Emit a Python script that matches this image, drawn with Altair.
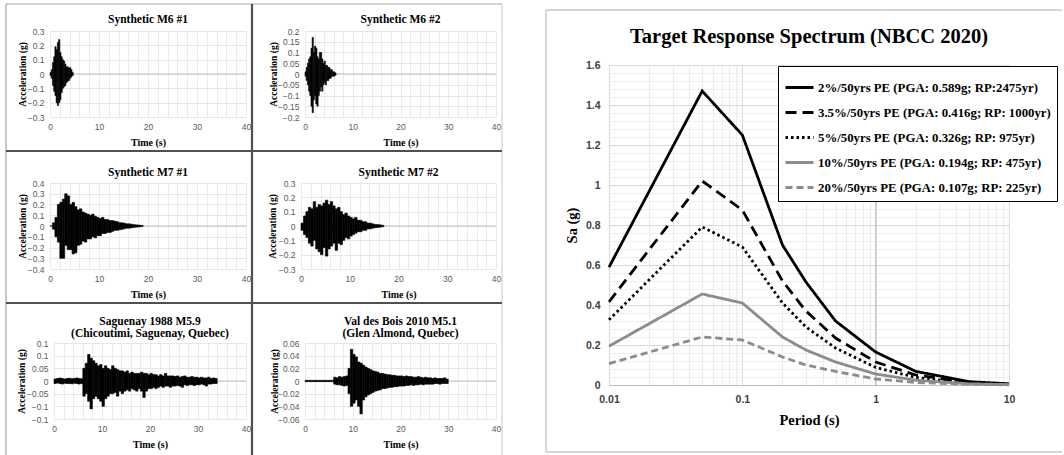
import altair as alt
import pandas as pd

SERIF = "Liberation Serif"
SANS = "Liberation Sans"

# ---------------- acceleration time histories ----------------
# Positive and negative peak acceleration (g) in successive time steps of dt seconds.
m6_1_dt = 0.25
m6_1_pos = [0.01, 0.03, 0.08, 0.12, 0.19, 0.17, 0.22, 0.24, 0.15, 0.12, 0.10, 0.09,
            0.07, 0.05, 0.05, 0.04, 0.045, 0.03, 0.01]
m6_1_neg = [-0.01, -0.03, -0.08, -0.12, -0.15, -0.20, -0.22, -0.20, -0.18, -0.13, -0.10,
            -0.09, -0.08, -0.06, -0.05, -0.045, -0.03, -0.02, -0.01]

m6_2_dt = 0.25
m6_2_pos = [0.01, 0.03, 0.05, 0.07, 0.08, 0.12, 0.17, 0.10, 0.13, 0.12, 0.08, 0.07, 0.10,
            0.10, 0.07, 0.05, 0.06, 0.04, 0.04, 0.03, 0.03, 0.02, 0.02, 0.01, 0.01, 0.005]
m6_2_neg = [-0.01, -0.03, -0.05, -0.08, -0.10, -0.15, -0.18, -0.12, -0.10, -0.14, -0.15,
            -0.10, -0.08, -0.06, -0.08, -0.05, -0.04, -0.05, -0.03, -0.03, -0.02, -0.02,
            -0.01, -0.01, -0.01, -0.005]

m7_1_dt = 0.5
m7_1_pos = [0.00, 0.03, 0.08, 0.20, 0.22, 0.25, 0.30, 0.28, 0.20, 0.22, 0.18, 0.15, 0.16,
            0.13, 0.12, 0.11, 0.10, 0.11, 0.09, 0.08, 0.07, 0.08, 0.06, 0.06, 0.05, 0.05,
            0.045, 0.04, 0.03, 0.03, 0.025, 0.02, 0.02, 0.015, 0.012, 0.01, 0.008, 0.005]
m7_1_neg = [0.00, -0.03, -0.10, -0.15, -0.30, -0.30, -0.18, -0.22, -0.22, -0.26, -0.25,
            -0.18, -0.17, -0.14, -0.15, -0.12, -0.12, -0.10, -0.11, -0.09, -0.09, -0.07,
            -0.07, -0.06, -0.06, -0.05, -0.04, -0.04, -0.035, -0.03, -0.025, -0.02, -0.02,
            -0.015, -0.012, -0.01, -0.008, -0.005]

m7_2_dt = 0.5
m7_2_pos = [0.02, 0.07, 0.10, 0.13, 0.12, 0.17, 0.13, 0.15, 0.14, 0.16, 0.18, 0.15, 0.17,
            0.14, 0.12, 0.13, 0.10, 0.08, 0.09, 0.07, 0.06, 0.05, 0.06, 0.04, 0.04, 0.03,
            0.03, 0.02, 0.02, 0.015, 0.01, 0.01, 0.008, 0.005]
m7_2_neg = [-0.03, -0.06, -0.08, -0.12, -0.14, -0.10, -0.16, -0.18, -0.20, -0.15, -0.21,
            -0.16, -0.14, -0.12, -0.17, -0.12, -0.13, -0.10, -0.08, -0.09, -0.07, -0.06,
            -0.05, -0.04, -0.04, -0.03, -0.03, -0.02, -0.02, -0.015, -0.012, -0.01, -0.008,
            -0.005]

sag_dt = 0.5
sag_pos = [0.008, 0.01, 0.012, 0.01, 0.008, 0.01, 0.011, 0.009, 0.01, 0.012, 0.01, 0.009,
           0.05, 0.07, 0.105, 0.09, 0.08, 0.07, 0.06, 0.065, 0.05, 0.06, 0.05, 0.045, 0.06,
           0.05, 0.045, 0.04, 0.04, 0.035, 0.04, 0.03, 0.035, 0.03, 0.03, 0.03, 0.035, 0.03,
           0.03, 0.025, 0.03, 0.025, 0.025, 0.02, 0.025, 0.02, 0.03, 0.02, 0.02, 0.02, 0.018,
           0.02, 0.015, 0.018, 0.02, 0.015, 0.015, 0.018, 0.015, 0.015, 0.012, 0.015, 0.012,
           0.012, 0.015, 0.01, 0.012, 0.01]
sag_neg = [-0.01, -0.008, -0.01, -0.012, -0.009, -0.01, -0.01, -0.011, -0.009, -0.01,
           -0.012, -0.01, -0.06, -0.05, -0.08, -0.11, -0.07, -0.06, -0.07, -0.08, -0.10,
           -0.07, -0.06, -0.05, -0.05, -0.045, -0.06, -0.04, -0.05, -0.04, -0.035, -0.04,
           -0.03, -0.035, -0.04, -0.03, -0.04, -0.065, -0.04, -0.03, -0.03, -0.025, -0.03,
           -0.025, -0.02, -0.025, -0.02, -0.02, -0.025, -0.02, -0.02, -0.018, -0.02, -0.025,
           -0.015, -0.018, -0.015, -0.015, -0.018, -0.015, -0.015, -0.012, -0.015, -0.02,
           -0.012, -0.012, -0.01, -0.01]

vdb_dt = 0.5
vdb_pos = [0.001, 0.001, 0.001, 0.001, 0.001, 0.001, 0.001, 0.001, 0.001, 0.001, 0.001,
           0.001, 0.006, 0.005, 0.007, 0.006, 0.007, 0.008, 0.02, 0.05, 0.042, 0.038, 0.03,
           0.028, 0.025, 0.022, 0.02, 0.018, 0.016, 0.015, 0.014, 0.012, 0.012, 0.011, 0.010,
           0.010, 0.009, 0.009, 0.008, 0.008, 0.008, 0.007, 0.008, 0.007, 0.007, 0.006, 0.006,
           0.007, 0.006, 0.005, 0.006, 0.005, 0.005, 0.004, 0.005, 0.004, 0.004, 0.004, 0.005,
           0.003]
vdb_neg = [-0.001, -0.001, -0.001, -0.001, -0.001, -0.001, -0.001, -0.001, -0.001, -0.001,
           -0.001, -0.001, -0.005, -0.006, -0.006, -0.007, -0.008, -0.007, -0.02, -0.04,
           -0.035, -0.03, -0.04, -0.052, -0.03, -0.025, -0.022, -0.02, -0.018, -0.016, -0.015,
           -0.014, -0.012, -0.012, -0.011, -0.010, -0.010, -0.009, -0.009, -0.008, -0.008,
           -0.008, -0.007, -0.007, -0.006, -0.007, -0.006, -0.006, -0.005, -0.006, -0.005,
           -0.005, -0.005, -0.005, -0.004, -0.004, -0.005, -0.004, -0.004, -0.004]

# ---------------- target spectra (NBCC 2020) ----------------
periods = [0.01, 0.05, 0.1, 0.2, 0.3, 0.5, 1.0, 2.0, 5.0, 10.0]
sa_2 = [0.589, 1.47, 1.25, 0.70, 0.515, 0.32, 0.165, 0.068, 0.017, 0.006]
sa_35 = [0.416, 1.02, 0.875, 0.52, 0.37, 0.235, 0.115, 0.05, 0.012, 0.004]
sa_5 = [0.326, 0.79, 0.69, 0.41, 0.29, 0.185, 0.088, 0.038, 0.009, 0.003]
sa_10 = [0.194, 0.455, 0.41, 0.24, 0.175, 0.115, 0.055, 0.024, 0.006, 0.002]
sa_20 = [0.107, 0.24, 0.225, 0.14, 0.10, 0.068, 0.03, 0.013, 0.003, 0.001]
series_names = [
    "2%/50yrs PE (PGA: 0.589g; RP:2475yr)",
    "3.5%/50yrs PE (PGA: 0.416g; RP: 1000yr)",
    "5%/50yrs PE (PGA: 0.326g; RP: 975yr)",
    "10%/50yrs PE (PGA: 0.194g; RP: 475yr)",
    "20%/50yrs PE (PGA: 0.107g; RP: 225yr)",
]
series_values = [sa_2, sa_35, sa_5, sa_10, sa_20]


def record_df(pos, neg, dt):
    rows = []
    for i, (hi, lo) in enumerate(zip(pos, neg)):
        rows.append({"t": i * dt, "t2": (i + 1) * dt, "hi": hi, "lo": lo})
    return pd.DataFrame(rows)


def record_panel(title, pos, neg, dt, y_values, width, height, title_x, title_offset):
    ymax = y_values[-1]
    x_enc = alt.X(
        "t:Q",
        scale=alt.Scale(domain=[0, 40], nice=False),
        axis=alt.Axis(
            values=list(range(0, 41, 2)),
            labelExpr="datum.value % 10 === 0 ? datum.label : ''",
            title="Time (s)", domain=False, ticks=False, grid=True, labelFlush=False,
            gridColor="#e6e6e6", gridWidth=0.8,
            labelFont=SANS, labelFontSize=8.5, labelColor="#595959", labelPadding=5,
            titleFont=SERIF, titleFontSize=10, titleFontWeight="bold", titleColor="black",
            titleY=25, titleBaseline="middle",
        ),
    )
    y_axis = alt.Axis(
        values=y_values, format="~g", title="Acceleration (g)", domain=False, ticks=False,
        grid=True, gridColor="#e0e0e0", gridWidth=0.8, labelFlush=False,
        labelFont=SANS, labelFontSize=8.5, labelColor="#595959", labelPadding=6,
        titleFont=SERIF, titleFontSize=9.5, titleFontWeight="bold", titleColor="black",
        titleAngle=270, titleX=title_x, titleY=height / 2, titleBaseline="middle",
        titleAlign="center",
    )
    y_scale = alt.Scale(domain=[-ymax, ymax], nice=False)
    # each time step is drawn as a filled band from its negative to its positive peak
    trace = alt.Chart(record_df(pos, neg, dt)).mark_rect(
        color="black", stroke="black", strokeWidth=0.6
    ).encode(
        x=x_enc, x2="t2:Q",
        y=alt.Y("lo:Q", scale=y_scale, axis=y_axis), y2="hi:Q",
    )
    zero = alt.Chart(pd.DataFrame({"lo": [0.0]})).mark_rule(
        color="#bfbfbf", strokeWidth=1
    ).encode(y=alt.Y("lo:Q", scale=y_scale, axis=y_axis))
    return alt.layer(zero, trace).properties(
        width=width, height=height,
        title=alt.TitleParams(
            title, font=SERIF, fontSize=11.5, fontWeight="bold", color="black",
            anchor="middle", frame="group", offset=title_offset, lineHeight=12,
        ),
    )


def line_seg(x1, x2, y1, y2, color, width):
    return alt.Chart(pd.DataFrame({"k": [0]})).mark_rule(
        color=color, strokeWidth=width, clip=False
    ).encode(x=alt.value(x1), x2=alt.value(x2), y=alt.value(y1), y2=alt.value(y2))


def spacer(decor=()):
    base = alt.Chart(pd.DataFrame({"k": [0]})).mark_point(opacity=0, size=0).encode(
        x=alt.value(0), y=alt.value(0)
    )
    return alt.layer(base, *decor).properties(width=1, height=1)


# table frame around the six records, drawn from the origin of the third row
table_frame = [
    line_seg(-44, -44, -339, 112, "#a6a6a6", 1.2),
    line_seg(-44, 452, -339, -339, "#a6a6a6", 1.2),
    line_seg(452, 452, -339, 112, "#c8c8c8", 1.0),
    line_seg(202, 202, -339, 112, "#505050", 2.2),
    line_seg(-44, 452, -192, -192, "#505050", 2.0),
    line_seg(-44, 452, -40, -40, "#505050", 2.0),
]
# border around the spectrum panel, drawn from a point just above its plot
spectrum_frame = [
    line_seg(-63, -63, -21, 421, "#d6d6d6", 2),
    line_seg(-63, 453, -21, -21, "#d6d6d6", 2),
    line_seg(-63, 453, 421, 421, "#d6d6d6", 2),
]

p1 = record_panel("Synthetic M6 #1", m6_1_pos, m6_1_neg, m6_1_dt,
                  [-0.3, -0.2, -0.1, 0, 0.1, 0.2, 0.3], 196, 86, -28, 2)
p2 = record_panel("Synthetic M6 #2", m6_2_pos, m6_2_neg, m6_2_dt,
                  [-0.2, -0.15, -0.1, -0.05, 0, 0.05, 0.1, 0.15, 0.2], 191, 86, -32, 2)
p3 = record_panel("Synthetic M7 #1", m7_1_pos, m7_1_neg, m7_1_dt,
                  [-0.4, -0.3, -0.2, -0.1, 0, 0.1, 0.2, 0.3, 0.4], 196, 86, -28, 1)
p4 = record_panel("Synthetic M7 #2", m7_2_pos, m7_2_neg, m7_2_dt,
                  [-0.3, -0.2, -0.1, 0, 0.1, 0.2, 0.3], 195, 86, -29, 1)
p5 = record_panel(["Saguenay 1988 M5.9", "(Chicoutimi, Saguenay, Quebec)"],
                  sag_pos, sag_neg, sag_dt,
                  [-0.15, -0.1, -0.05, 0, 0.05, 0.1, 0.15], 192, 76, -33, 0)
p6 = record_panel(["Val des Bois 2010 M5.1", "(Glen Almond, Quebec)"],
                  vdb_pos, vdb_neg, vdb_dt,
                  [-0.06, -0.04, -0.02, 0, 0.02, 0.04, 0.06], 191, 76, -31, 0)

# flush layout: a nested concat counts as zero-sized, so its spacing is the full offset
row1 = alt.hconcat(p1, p2, spacing=59, bounds="flush")
row2 = alt.hconcat(p3, p4, spacing=55, bounds="flush")
row3 = alt.hconcat(alt.hconcat(spacer(table_frame), p5, spacing=3, bounds="flush"), p6,
                   spacing=255, bounds="flush")
left = alt.vconcat(alt.vconcat(row1, row2, spacing=152, bounds="flush"), row3,
                   spacing=312, bounds="flush")

# ---------------- response spectrum panel ----------------
spec_rows = []
for name, vals in zip(series_names, series_values):
    for p, v in zip(periods, vals):
        spec_rows.append({"period": p, "sa": v, "series": name})
spec_df = pd.DataFrame(spec_rows)

grid_periods = [round(m * 10 ** e, 4) for e in (-2, -1, 0) for m in range(1, 10)] + [10]
decade_test = "abs(log(datum.value)/LN10 - round(log(datum.value)/LN10)) < 1e-6"
major_y_test = "abs(datum.value*5 - round(datum.value*5)) < 1e-6"

x_spec = alt.X(
    "period:Q",
    scale=alt.Scale(type="log", domain=[0.01, 10], nice=False),
    axis=alt.Axis(
        values=grid_periods, format="~g",
        labelExpr=decade_test + " ? datum.label : ''",
        title="Period (s)", ticks=False, domain=True, domainColor="#bfbfbf",
        grid=True, labelFlush=False,
        gridColor={"condition": {"test": decade_test, "value": "#d9d9d9"}, "value": "#ececec"},
        labelFont=SANS, labelFontSize=10.5, labelFontWeight="bold", labelColor="#404040",
        labelPadding=9, titleFont=SERIF, titleFontSize=14.5, titleFontWeight="bold",
        titleColor="black", titleY=35, titleBaseline="middle",
    ),
)
y_spec = alt.Y(
    "sa:Q",
    scale=alt.Scale(domain=[0, 1.6], nice=False),
    axis=alt.Axis(
        values=[round(i * 0.04, 2) for i in range(41)],
        labelExpr=major_y_test + " ? format(datum.value, '~g') : ''",
        title="Sa (g)", ticks=False, domain=False, grid=True, labelFlush=False,
        gridColor={"condition": {"test": major_y_test, "value": "#d9d9d9"}, "value": "#efefef"},
        labelFont=SANS, labelFontSize=10.5, labelFontWeight="bold", labelColor="#404040",
        labelPadding=9, titleFont=SERIF, titleFontSize=14.5, titleFontWeight="bold",
        titleColor="black", titleAngle=270, titleX=-37, titleY=160,
        titleBaseline="middle", titleAlign="center",
    ),
)

# the legend is laid out from the origin of the whole figure (first record's plot)
legend = alt.Legend(
    title=None, orient="none", legendX=728, legendY=35, symbolType="stroke",
    symbolSize=784, symbolStrokeWidth=2.8, labelFont=SERIF, labelFontWeight="bold",
    labelFontSize=12.8, labelColor="black", labelLimit=400, labelOffset=3,
    rowPadding=2, padding=6, strokeColor="black", fillColor="white",
)
color_scale = alt.Scale(domain=series_names,
                        range=["black", "black", "black", "#8c8c8c", "#8c8c8c"])
dash_scale = alt.Scale(domain=series_names,
                       range=[[1, 0], [11, 6], [2.5, 3], [1, 0], [7, 4]])

spectra = alt.Chart(spec_df).mark_line(strokeWidth=2.8, strokeCap="butt").encode(
    x=x_spec, y=y_spec,
    color=alt.Color("series:N", scale=color_scale, legend=legend),
    strokeDash=alt.StrokeDash("series:N", scale=dash_scale, legend=legend),
)
unit_period = alt.Chart(pd.DataFrame({"period": [1.0]})).mark_rule(
    color="#c4c4c4", strokeWidth=1.2
).encode(x=x_spec)

right = alt.layer(unit_period, spectra).properties(
    width=400, height=320,
    title=alt.TitleParams(
        "Target Response Spectrum (NBCC 2020)", font=SERIF, fontSize=20.5,
        fontWeight="bold", color="black", anchor="middle", frame="group", offset=13,
    ),
)
right_group = alt.vconcat(spacer(spectrum_frame), right, spacing=33, bounds="flush")

chart = alt.hconcat(left, right_group, spacing=559, bounds="flush").properties(
    padding={"left": 5, "top": 2, "right": 0, "bottom": 0},
    background="white",
).configure_view(stroke=None)

chart.save("out.html", embed_options={"renderer": "svg", "actions": False})
